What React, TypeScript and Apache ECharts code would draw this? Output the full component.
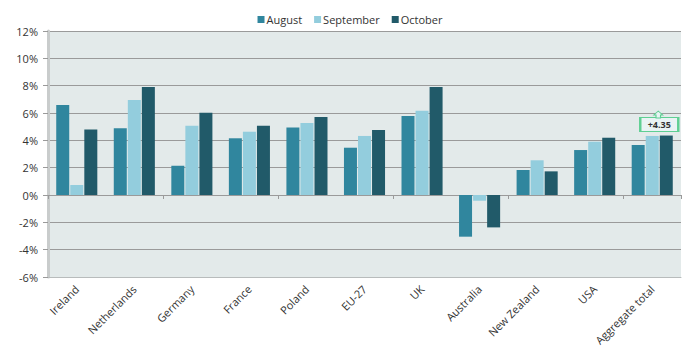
import React, { useEffect, useRef } from "react";
import * as echarts from "echarts";

const categories = ["Ireland", "Netherlands", "Germany", "France", "Poland", "EU-27", "UK", "Australia", "New Zealand", "USA", "Aggregate total"];
const august = [6.58, 4.88, 2.14, 4.15, 4.93, 3.46, 5.78, -3.05, 1.83, 3.29, 3.66];
const september = [0.73, 6.95, 5.07, 4.63, 5.27, 4.32, 6.17, -0.42, 2.54, 3.9, 4.32];
const october = [4.8, 7.9, 6.02, 5.07, 5.71, 4.76, 7.9, -2.37, 1.73, 4.19, 4.35];
const annotationText = "+4.35";
const annotationValue = 4.35;

const FONT = "'Open Sans', 'Noto Sans', sans-serif";

export default function App() {
  const ref = useRef<HTMLDivElement>(null);
  useEffect(() => {
    const chart = echarts.init(ref.current!, null, { renderer: "svg" });
    chart.setOption({
      animation: false,
      textStyle: { fontFamily: FONT },
      legend: {
        top: 9,
        left: "center",
        itemWidth: 7,
        itemHeight: 7,
        itemGap: 12,
        icon: "rect",
        textStyle: { fontSize: 11, color: "#333", fontFamily: FONT, padding: [0, 0, 0, -3] },
        data: ["August", "September", "October"],
      },
      grid: { left: 48, right: 19, top: 31, bottom: 79, backgroundColor: "#e3eaea", show: true, borderWidth: 0 },
      xAxis: [
        {
          type: "category",
          data: categories,
          position: "bottom",
          axisLine: { show: true, onZero: false, lineStyle: { color: "#b8bcbc", width: 1 } },
          axisTick: { show: false },
          axisLabel: { rotate: 45, fontSize: 11, color: "#333", fontFamily: FONT, margin: 10, interval: 0 },
        },
        {
          type: "category",
          data: categories,
          position: "bottom",
          axisLine: { show: true, onZero: true, lineStyle: { color: "#9a9a9a", width: 1 } },
          axisTick: { show: true, length: 4, lineStyle: { color: "#9a9a9a" } },
          axisLabel: { show: false },
        },
      ],
      yAxis: {
        type: "value",
        min: -6,
        max: 12,
        interval: 2,
        axisLine: { show: true, lineStyle: { color: "#c9cccc", width: 3 } },
        axisTick: { show: true, length: 5, lineStyle: { color: "#9a9a9a" } },
        splitLine: { show: true, lineStyle: { color: "#9a9a9a", width: 1 } },
        axisLabel: { formatter: "{value}%", fontSize: 11, color: "#333", fontFamily: FONT, margin: 10 },
      },
      series: [
        {
          name: "August",
          type: "bar",
          data: august,
          barWidth: 13,
          barGap: "8%",
          itemStyle: { color: "#30869e" },
        },
        {
          name: "September",
          type: "bar",
          data: september,
          barWidth: 13,
          barGap: "8%",
          itemStyle: { color: "#93cddd" },
        },
        {
          name: "October",
          type: "bar",
          data: october,
          barWidth: 13,
          barGap: "8%",
          itemStyle: { color: "#215a69" },
          markPoint: {
            silent: true,
            data: [
              {
                coord: [categories.length - 1, annotationValue],
                symbol: "rect",
                symbolSize: [38, 14],
                symbolOffset: [-7, -11],
                itemStyle: { color: "#e9f3f4", borderColor: "#5fcf93", borderWidth: 1.5 },
                label: {
                  show: true,
                  position: "inside",
                  formatter: annotationText,
                  fontSize: 9,
                  fontWeight: "bold",
                  color: "#333",
                  fontFamily: FONT,
                },
              },
              {
                coord: [categories.length - 1, annotationValue],
                symbol: "path://M0,4 L4,0 L8,4 L6,4 L6,7 L2,7 L2,4 Z",
                symbolSize: [9, 7],
                symbolOffset: [-8, -21],
                itemStyle: { color: "#e9f3f4", borderColor: "#5fcf93", borderWidth: 1 },
                label: { show: false },
              },
            ],
          },
        },
      ],
    });
    return () => chart.dispose();
  }, []);
  return <div ref={ref} style={{ width: 700, height: 356, margin: -8 }} />;
}
